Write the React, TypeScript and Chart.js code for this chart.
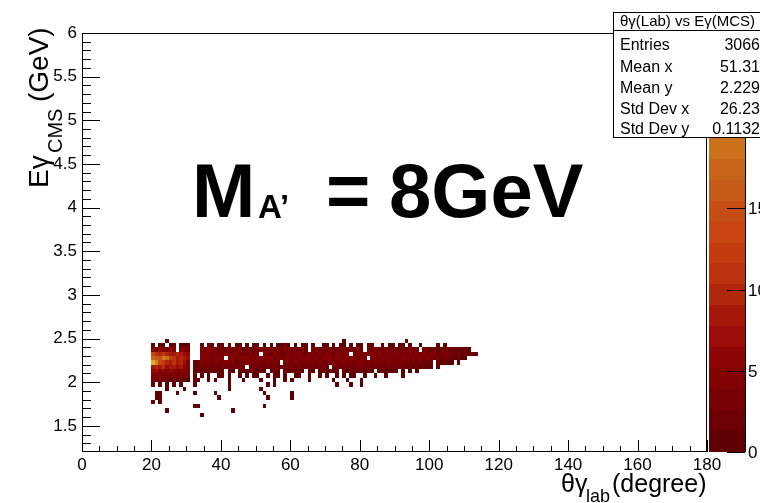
import React, { useEffect, useRef } from "react";
import { Chart, registerables } from "chart.js";
Chart.register(...registerables);

const FONT = '"Liberation Sans", Arial, Helvetica, sans-serif';

// axis ranges
const X_MIN = 0;
const X_MAX = 180;
const Y_MIN = 1.2;
const Y_MAX = 6;
const Z_MAX = 25.8;
const X_BIN = 1;
const Y_BIN = 0.05;

const xTickValues = [0, 20, 40, 60, 80, 100, 120, 140, 160, 180];
const xTickLabels = ["0", "20", "40", "60", "80", "100", "120", "140", "160", "180"];
const xMinorStep = 5;
const yTickValues = [1.5, 2, 2.5, 3, 3.5, 4, 4.5, 5, 5.5, 6];
const yTickLabels = ["1.5", "2", "2.5", "3", "3.5", "4", "4.5", "5", "5.5", "6"];
const yMinorStep = 0.1;
const zTickValues = [0, 5, 10, 15, 20, 25];
const zTickLabels = ["0", "5", "10", "15", "20", "25"];

// first x bin (degrees) of each row string
const X_FIRST_BIN = 20;
// lower edge (GeV) of each row of bins
const rowLowEdges = [2.45, 2.4, 2.35, 2.3, 2.25, 2.2, 2.15, 2.1, 2.05, 2.0, 1.95, 1.9, 1.85, 1.8, 1.75, 1.7, 1.65, 1.6];
// bin contents, one char per 1-degree bin: '.'=0, '1'-'9', 'a'=10 ... 'p'=25
const rowContents = [
  "....1..... .......... .......... .......... .......... .....1.... .......... ...1......",
  "1.11.12.11 1...1.21.2 1.2.11.1.1 2.1.1.1121 .1.11.1..1 1.1.11.1.1 1.11..1.11 .11.1..1.. ..1.1..... ....",
  "4364565.45 3...324423 3253342232 2433425243 33242.3423 3423352324 2.32432523 3232423.32 2312322131 21..",
  "dbaca98a97 6...434353 3424433343 4.43354324 3443243343 4324434.33 3435343424 4343534343 3423432232 2121",
  "hgfkjcb9a8 7...554434 4.45344434 3454424345 4345443434 5434435443 43.5434543 3454343434 3232322121 1...",
  "pleca9b8a7 5.12434343 3434233433 4334343.33 3433434343 3443343434 4353434343 3433232322 2.21211.1. ....",
  "9a8b798786 4.21323232 3232323.32 2323232323 3232322323 2.23232323 3232323232 2221212121 1.1....... ....",
  "6756565454 3.12121212 2.21.21212 121.121.21 2121.21.12 1212.21212 2121.12121 1.1.1.1... .......... ....",
  "4543434343 2.2.1.1..1 1.1..1.1.1 1..1.11.1. .11..1..1. 1..1.1.11. .1..1..1.. ..1.......",
  "3232312121 1.21..1.1. ..1...1... .1...1..1. 1....1.... ..1...1... 1.........",
  "1.1.1.1.1. ..1....... ..1....... ...1.1.... .......... ...1...1.. 1.........",
  "....1....1 .......... ..1....... .1........",
  ".11....1.. ..1.....1. .......... ..1....... 1.........",
  ".11....... .........1 .......... ...1...... 1.........",
  "1.1.......",
  ".......... ..11...... .......... ..1.......",
  "....1..... .......... ...1......",
  ".......... ....1.....",
];

const paletteColors = [
  "rgb(95,0,4)", "rgb(108,0,4)", "rgb(118,0,4)", "rgb(130,2,4)", "rgb(142,5,5)",
  "rgb(155,12,8)", "rgb(165,24,10)", "rgb(176,40,12)", "rgb(186,50,14)", "rgb(196,60,14)",
  "rgb(200,68,16)", "rgb(198,78,20)", "rgb(198,90,24)", "rgb(200,100,26)", "rgb(204,112,28)",
  "rgb(208,124,30)", "rgb(212,134,32)", "rgb(216,144,34)", "rgb(220,156,38)", "rgb(226,170,44)",
];

const statsTitle = "θγ(Lab) vs Eγ(MCS)";
const statsNames = ["Entries", "Mean x", "Mean y", "Std Dev x", "Std Dev y"];
const statsValues = ["3066", "51.31", "2.229", "26.23", "0.1132"];

function decode(ch: string): number {
  if (ch === ".") return 0;
  if (ch >= "0" && ch <= "9") return ch.charCodeAt(0) - 48;
  return 10 + ch.charCodeAt(0) - 97;
}

function buildCells() {
  const cells: { x: number; y: number; v: number }[] = [];
  rowContents.forEach((row, r) => {
    const s = row.replace(/ /g, "");
    for (let i = 0; i < s.length; i++) {
      const v = decode(s[i]);
      if (v > 0) {
        cells.push({ x: X_FIRST_BIN + i * X_BIN + X_BIN / 2, y: rowLowEdges[r] + Y_BIN / 2, v });
      }
    }
  });
  return cells;
}

function colorFor(v: number) {
  const n = paletteColors.length;
  const idx = Math.max(0, Math.min(n - 1, Math.floor((v / Z_MAX) * n)));
  return paletteColors[idx];
}

const rootPlugin = {
  id: "rootDraw",
  afterDatasetsDraw(chart: any) {
    const ctx = chart.ctx;
    const xs = chart.scales.x;
    const ys = chart.scales.y;
    const data = chart.data.datasets[0].data as any[];
    ctx.save();
    for (const p of data) {
      const x0 = Math.round(xs.getPixelForValue(p.x - X_BIN / 2));
      const x1 = Math.round(xs.getPixelForValue(p.x + X_BIN / 2));
      const y0 = Math.round(ys.getPixelForValue(p.y + Y_BIN / 2));
      const y1 = Math.round(ys.getPixelForValue(p.y - Y_BIN / 2));
      ctx.fillStyle = colorFor(p.v);
      ctx.fillRect(x0, y0, x1 - x0, y1 - y0);
    }
    ctx.restore();
  },
  afterDraw(chart: any) {
    const ctx = chart.ctx;
    const xs = chart.scales.x;
    const ys = chart.scales.y;
    const zs = chart.scales.z;
    const { left, right, top, bottom } = chart.chartArea;
    ctx.save();
    ctx.strokeStyle = "#000";
    ctx.lineWidth = 1;
    // frame
    ctx.strokeRect(left + 0.5, top + 0.5, right - left - 1, bottom - top - 1);
    // x ticks
    ctx.beginPath();
    for (let v = X_MIN; v <= X_MAX + 1e-9; v += xMinorStep) {
      const px = Math.round(xs.getPixelForValue(v)) + 0.5;
      const major = xTickValues.indexOf(v) >= 0;
      ctx.moveTo(px, bottom);
      ctx.lineTo(px, bottom - (major ? 12 : 6));
    }
    // y ticks
    const nMinor = Math.round((Y_MAX - Y_MIN) / yMinorStep);
    for (let i = 1; i <= nMinor; i++) {
      const v = Math.round((Y_MIN + i * yMinorStep) * 10) / 10;
      const py = Math.round(ys.getPixelForValue(v)) + 0.5;
      const major = yTickValues.indexOf(v) >= 0;
      ctx.moveTo(left, py);
      ctx.lineTo(left + (major ? 18 : 9), py);
    }
    ctx.stroke();

    // colour bar
    const cbL = right + 2;
    const cbR = right + 38;
    const n = paletteColors.length;
    for (let i = 0; i < n; i++) {
      const ya = Math.round(zs.getPixelForValue((i * Z_MAX) / n));
      const yb = Math.round(zs.getPixelForValue(((i + 1) * Z_MAX) / n));
      ctx.fillStyle = paletteColors[i];
      ctx.fillRect(cbL, yb, cbR - cbL, ya - yb);
    }
    ctx.beginPath();
    ctx.moveTo(cbR + 0.5, top);
    ctx.lineTo(cbR + 0.5, bottom);
    ctx.stroke();
    ctx.fillStyle = "#000";
    ctx.font = `17px ${FONT}`;
    ctx.textAlign = "left";
    ctx.textBaseline = "middle";
    zTickValues.forEach((v, i) => {
      const py = Math.round(zs.getPixelForValue(v)) + 0.5;
      ctx.beginPath();
      ctx.moveTo(cbR - 18, py);
      ctx.lineTo(cbR, py);
      ctx.stroke();
      ctx.fillText(zTickLabels[i], cbR + 3, py + 1);
    });

    // axis titles
    ctx.textBaseline = "alphabetic";
    ctx.fillStyle = "#000";
    ctx.font = `25px ${FONT}`;
    ctx.fillText("θγ", 561, 492);
    ctx.font = `18px ${FONT}`;
    ctx.fillText("lab", 586, 502);
    ctx.font = `25px ${FONT}`;
    ctx.fillText("(degree)", 612, 492);

    ctx.save();
    ctx.translate(48, 0);
    ctx.rotate(-Math.PI / 2);
    ctx.font = `28px ${FONT}`;
    ctx.fillText("Eγ", -188, 0);
    ctx.font = `20px ${FONT}`;
    ctx.fillText("CMS", -153, 14);
    ctx.font = `28px ${FONT}`;
    ctx.fillText("(GeV)", -102, 0);
    ctx.restore();

    // big label
    ctx.font = `bold 76px ${FONT}`;
    ctx.fillText("M", 192, 217);
    ctx.font = `bold 33px ${FONT}`;
    ctx.fillText("A’", 258, 218);
    ctx.font = `bold 76px ${FONT}`;
    ctx.fillText("=", 326, 217);
    ctx.fillText("8GeV", 389, 217);

    // stats box
    const sbL = 613, sbT = 12, sbB = 137, sbR = 800;
    ctx.fillStyle = "#fff";
    ctx.fillRect(sbL, sbT, sbR - sbL, sbB - sbT);
    ctx.strokeRect(sbL + 0.5, sbT + 0.5, sbR - sbL, sbB - sbT);
    ctx.beginPath();
    ctx.moveTo(sbL, 30.5);
    ctx.lineTo(sbR, 30.5);
    ctx.stroke();
    ctx.fillStyle = "#000";
    ctx.font = `15px ${FONT}`;
    ctx.textAlign = "left";
    ctx.fillText(statsTitle, 620, 26);
    ctx.font = `16px ${FONT}`;
    const baselines = [50, 72, 93, 114, 134];
    statsNames.forEach((nm, i) => {
      ctx.textAlign = "left";
      ctx.fillText(nm, 620, baselines[i]);
      ctx.textAlign = "right";
      ctx.fillText(statsValues[i], 760, baselines[i]);
    });
    ctx.restore();
  },
};

export default function App() {
  const ref = useRef<HTMLCanvasElement>(null);
  useEffect(() => {
    document.body.style.margin = "0";
    const canvas = ref.current!;
    const cells = buildCells();
    const chart = new Chart(canvas, {
      type: "scatter",
      data: {
        datasets: [
          {
            data: cells as any,
            pointRadius: 0,
            pointHoverRadius: 0,
            showLine: false,
          },
        ],
      },
      options: {
        responsive: false,
        devicePixelRatio: 1,
        animation: false,
        events: [],
        layout: { padding: { left: 0, right: 53, top: 33, bottom: 0 } },
        plugins: { legend: { display: false }, tooltip: { enabled: false } },
        scales: {
          x: {
            type: "linear",
            min: X_MIN,
            max: X_MAX,
            afterBuildTicks: (s: any) => {
              s.ticks = xTickValues.map((v) => ({ value: v }));
            },
            afterFit: (s: any) => {
              s.height = 51;
            },
            grid: { display: false, drawTicks: false },
            border: { display: false },
            ticks: {
              autoSkip: false,
              maxRotation: 0,
              padding: 3,
              color: "#000",
              font: { family: FONT, size: 17 },
              callback: (v: any) => xTickLabels[xTickValues.indexOf(Number(v))] ?? "",
            },
          },
          y: {
            type: "linear",
            min: Y_MIN,
            max: Y_MAX,
            afterBuildTicks: (s: any) => {
              s.ticks = yTickValues.map((v) => ({ value: v }));
            },
            afterFit: (s: any) => {
              s.width = 82;
            },
            grid: { display: false, drawTicks: false },
            border: { display: false },
            ticks: {
              autoSkip: false,
              padding: 5,
              color: "#000",
              font: { family: FONT, size: 17 },
              callback: (v: any) => yTickLabels[yTickValues.indexOf(Number(v))] ?? "",
            },
          },
          z: {
            type: "linear",
            position: "right",
            display: false,
            min: 0,
            max: Z_MAX,
          },
        },
      } as any,
      plugins: [rootPlugin],
    });
    return () => chart.destroy();
  }, []);
  return (
    <div style={{ width: 760, height: 503 }}>
      <canvas ref={ref} width={760} height={503} style={{ display: "block" }} />
    </div>
  );
}
